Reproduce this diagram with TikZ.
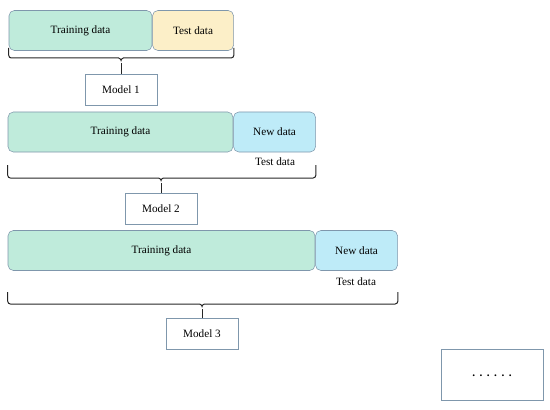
\documentclass[tikz,border=0pt]{standalone}
\usepackage{fontspec}
\setmainfont{Liberation Serif}
\usetikzlibrary{positioning,calc}

\definecolor{trainfill}{HTML}{BFEBDB}
\definecolor{testfill}{HTML}{FCEFC8}
\definecolor{newfill}{HTML}{BEEBF8}
\definecolor{boxline}{HTML}{7F97AC}

% brace under one row: left node, right node, tick top, base line, model node
\newcommand{\databrace}[5]{%
  \coordinate (#5-cusp) at ($(#5.north |- 0,#4)+(0,5)$);
  \draw[bracket] (#1.west |- 0,#3) -- (#1.west |- 0,#4)
    -- ($(#5-cusp)+(-5,-5)$)
    .. controls ($(#5-cusp)+(-1,-5)$) and ($(#5-cusp)+(0,-3)$) .. (#5-cusp)
    .. controls ($(#5-cusp)+(0,-3)$) and ($(#5-cusp)+(1,-5)$) .. ($(#5-cusp)+(5,-5)$)
    -- (#2.east |- 0,#4) -- (#2.east |- 0,#3);
  \draw[bracket] (#5-cusp) -- (#5);
}

\begin{document}
\begin{tikzpicture}[
    x=0.75pt, y=-0.75pt,
    font=\fontsize{8.4}{10}\selectfont,
    databox/.style={
        draw=boxline,
        rounded corners=4pt,
        minimum height=30pt,
        inner sep=0pt
    },
    modelbox/.style={
        draw=boxline,
        fill=white,
        minimum width=54pt,
        minimum height=23.25pt,
        inner sep=0pt
    },
    bracket/.style={
        line width=0.75pt,
        black!85,
        rounded corners=2pt
    }
]
\useasboundingbox (0,0) rectangle (550,410);

% first split
\node[databox, fill=trainfill, minimum width=107.25pt] (train1) at (80.5,30.5) {Training data};
\node[databox, fill=testfill, minimum width=60.75pt, right=0pt of train1] (test1) {Test data};
\node[modelbox] (model1) at (121,89.5) {Model 1};

% second split
\node[databox, fill=trainfill, minimum width=168.75pt] (train2) at (120.5,132) {Training data};
\node[databox, fill=newfill, minimum width=61.5pt, right=0pt of train2] (new2) {New data};
\node (label2) at (275,162) {Test data};
\node[modelbox] (model2) at (161,208.5) {Model 2};

% third split
\node[databox, fill=trainfill, minimum width=230.25pt] (train3) at (161.5,250.5) {Training data};
\node[databox, fill=newfill, minimum width=61.5pt, right=0pt of train3] (new3) {New data};
\node (label3) at (356,282) {Test data};
\node[modelbox] (model3) at (202,334) {Model 3};

% and so on
\node[modelbox, minimum width=76.5pt, minimum height=38.25pt] (more) at (492,374.5)
    {\raisebox{-3pt}{\addfontfeature{LetterSpace=40}\bfseries ......}};

% braces
\databrace{train1}{test1}{48}{58}{model1}
\databrace{train2}{new2}{165}{178}{model2}
\databrace{train3}{new3}{292}{304}{model3}

\end{tikzpicture}
\end{document}
